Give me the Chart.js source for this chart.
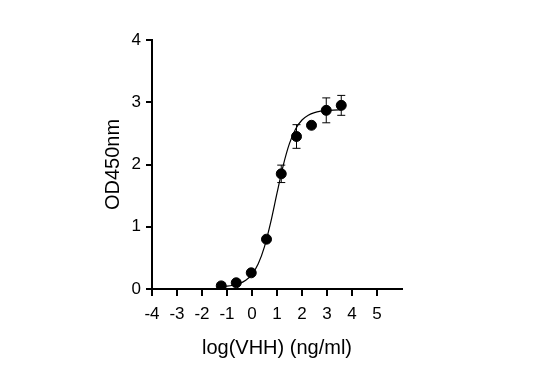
<!DOCTYPE html>
<html>
<head>
<meta charset="utf-8">
<script src="https://cdn.jsdelivr.net/npm/chart.js@4/dist/chart.umd.min.js"></script>
<style>
html,body{margin:0;padding:0;background:#fff;}
#wrap{width:538px;height:386px;}
</style>
</head>
<body>
<div id="wrap"><canvas id="c" width="538" height="386"></canvas></div>
<script>
// measured points: log concentration, mean OD, error
const logConc = [-1.23, -0.63, -0.03, 0.58, 1.17, 1.78, 2.38, 2.97, 3.57];
const odMean  = [0.05, 0.10, 0.26, 0.80, 1.85, 2.45, 2.63, 2.87, 2.95];
const odErr   = [0.01, 0.01, 0.02, 0.03, 0.14, 0.19, 0.03, 0.20, 0.16];
// fitted curve
const curveX = [-1.23, -1.0, -0.75, -0.5, -0.25, 0.0, 0.25, 0.5, 0.75, 1.0, 1.25, 1.5, 1.75, 2.0, 2.25, 2.5, 2.75, 3.0, 3.25, 3.57];
const curveY = [0.04, 0.045, 0.06, 0.087, 0.139, 0.236, 0.405, 0.681, 1.073, 1.539, 1.987, 2.34, 2.575, 2.715, 2.792, 2.834, 2.856, 2.868, 2.874, 2.877];
// axis ticks
const xTicks = [-4, -3, -2, -1, 0, 1, 2, 3, 4, 5];
const yTicks = [0, 1, 2, 3, 4];
const xTitle = 'log(VHH) (ng/ml)';
const yTitle = 'OD450nm';

const FONT = "'Liberation Sans', Arial, sans-serif";

const errorBars = {
  id: 'errorBars',
  afterDatasetsDraw(chart) {
    const ctx = chart.ctx;
    const xs = chart.scales.x, ys = chart.scales.y;
    ctx.save();
    ctx.strokeStyle = '#000';
    ctx.lineWidth = 1;
    for (let i = 0; i < logConc.length; i++) {
      const px = xs.getPixelForValue(logConc[i]);
      const yt = ys.getPixelForValue(odMean[i] + odErr[i]);
      const yb = ys.getPixelForValue(odMean[i] - odErr[i]);
      ctx.beginPath();
      ctx.moveTo(px, yt); ctx.lineTo(px, yb);
      ctx.moveTo(px - 4, yt); ctx.lineTo(px + 4, yt);
      ctx.moveTo(px - 4, yb); ctx.lineTo(px + 4, yb);
      ctx.stroke();
    }
    ctx.restore();
  }
};

new Chart(document.getElementById('c'), {
  type: 'scatter',
  data: {
    datasets: [
      {
        type: 'scatter',
        data: logConc.map((x, i) => ({x: x, y: odMean[i]})),
        backgroundColor: '#000',
        borderColor: '#000',
        pointRadius: 5,
        pointHoverRadius: 5,
        order: 0
      },
      {
        type: 'line',
        data: curveX.map((x, i) => ({x: x, y: curveY[i]})),
        borderColor: '#000',
        borderWidth: 1.2,
        pointRadius: 0,
        fill: false,
        cubicInterpolationMode: 'monotone',
        order: 1
      }
    ]
  },
  options: {
    responsive: false,
    animation: false,
    events: [],
    layout: { padding: { left: 101, top: 40, right: 136, bottom: 26 } },
    plugins: { legend: { display: false }, tooltip: { enabled: false } },
    scales: {
      x: {
        type: 'linear',
        min: -4, max: 6,
        afterBuildTicks: s => { s.ticks = xTicks.map(v => ({value: v})); },
        afterFit: s => { s.height = 386 - 26 - 289; },
        border: { display: true, color: '#000', width: 2 },
        grid: { drawOnChartArea: false, drawTicks: true, tickLength: 7, color: '#000', lineWidth: 2 },
        ticks: { color: '#000', padding: 8, maxRotation: 0, autoSkip: false, font: { family: FONT, size: 17 } },
        title: { display: true, text: xTitle, color: '#000', padding: 0, font: { family: FONT, size: 20 } }
      },
      y: {
        type: 'linear',
        min: 0, max: 4,
        afterBuildTicks: s => { s.ticks = yTicks.map(v => ({value: v})); },
        afterFit: s => { s.width = 152 - 101; },
        border: { display: true, color: '#000', width: 2 },
        grid: { drawOnChartArea: false, drawTicks: true, tickLength: 6, color: '#000', lineWidth: 2 },
        ticks: { color: '#000', padding: 5, autoSkip: false, font: { family: FONT, size: 17 } },
        title: { display: true, text: yTitle, color: '#000', padding: 0, font: { family: FONT, size: 20 } }
      }
    }
  },
  plugins: [errorBars]
});
</script>
</body>
</html>
